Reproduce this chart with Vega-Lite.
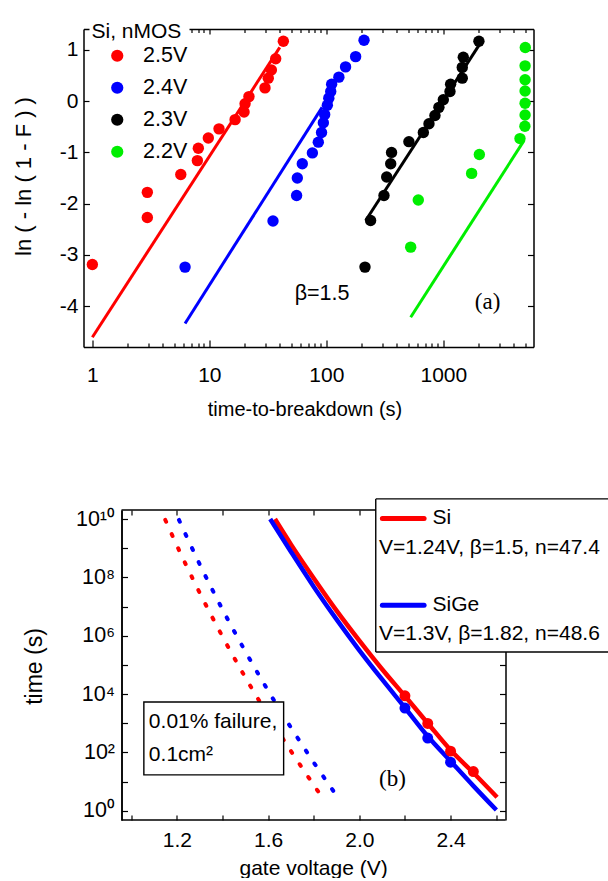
{
  "$schema": "https://vega.github.io/schema/vega-lite/v6.json",
  "background": "white",
  "padding": {"left": 11.5, "top": 19, "right": 0, "bottom": 0},
  "config": {
    "font": "Liberation Sans",
    "view": {"stroke": null},
    "axis": {"domainColor": "black", "domainWidth": 1.5, "tickColor": "black", "tickWidth": 1.2, "labelColor": "black", "titleColor": "black", "labelFont": "Liberation Sans", "titleFont": "Liberation Sans", "titleFontWeight": "normal", "grid": false, "labelFlush": false, "labelOverlap": false}
  },
  "resolve": {"scale": {"color": "independent"}, "legend": {"color": "independent"}},
  "concat": [
    {
      "width": 450,
      "height": 318,
      "layer": [
        {
          "data": {"values": [
            {"t": 1.0, "y": -3.19, "V": "2.5V"}, {"t": 2.95, "y": -2.27, "V": "2.5V"}, {"t": 2.95, "y": -1.78, "V": "2.5V"}, {"t": 5.7, "y": -1.43, "V": "2.5V"}, {"t": 7.9, "y": -1.16, "V": "2.5V"}, {"t": 8.05, "y": -0.92, "V": "2.5V"}, {"t": 9.8, "y": -0.72, "V": "2.5V"}, {"t": 12.1, "y": -0.54, "V": "2.5V"}, {"t": 16.6, "y": -0.36, "V": "2.5V"}, {"t": 19.8, "y": -0.21, "V": "2.5V"}, {"t": 20.2, "y": -0.05, "V": "2.5V"}, {"t": 21.8, "y": 0.09, "V": "2.5V"}, {"t": 29.9, "y": 0.26, "V": "2.5V"}, {"t": 31.9, "y": 0.45, "V": "2.5V"}, {"t": 33.9, "y": 0.61, "V": "2.5V"}, {"t": 36.9, "y": 0.83, "V": "2.5V"}, {"t": 42.9, "y": 1.17, "V": "2.5V"},
            {"t": 6.2, "y": -3.24, "V": "2.4V"}, {"t": 35, "y": -2.34, "V": "2.4V"}, {"t": 55.7, "y": -1.84, "V": "2.4V"}, {"t": 56.5, "y": -1.5, "V": "2.4V"}, {"t": 62.3, "y": -1.22, "V": "2.4V"}, {"t": 76, "y": -1.01, "V": "2.4V"}, {"t": 85.4, "y": -0.8, "V": "2.4V"}, {"t": 91, "y": -0.61, "V": "2.4V"}, {"t": 94.3, "y": -0.42, "V": "2.4V"}, {"t": 96.8, "y": -0.26, "V": "2.4V"}, {"t": 102, "y": -0.08, "V": "2.4V"}, {"t": 105, "y": 0.06, "V": "2.4V"}, {"t": 109, "y": 0.19, "V": "2.4V"}, {"t": 111, "y": 0.33, "V": "2.4V"}, {"t": 128, "y": 0.47, "V": "2.4V"}, {"t": 146, "y": 0.67, "V": "2.4V"}, {"t": 178, "y": 0.87, "V": "2.4V"}, {"t": 210, "y": 1.19, "V": "2.4V"},
            {"t": 214, "y": -3.24, "V": "2.3V"}, {"t": 239, "y": -2.33, "V": "2.3V"}, {"t": 311, "y": -1.84, "V": "2.3V"}, {"t": 328, "y": -1.48, "V": "2.3V"}, {"t": 355, "y": -1.22, "V": "2.3V"}, {"t": 361, "y": -1.0, "V": "2.3V"}, {"t": 508, "y": -0.79, "V": "2.3V"}, {"t": 675, "y": -0.61, "V": "2.3V"}, {"t": 754, "y": -0.44, "V": "2.3V"}, {"t": 848, "y": -0.28, "V": "2.3V"}, {"t": 917, "y": -0.12, "V": "2.3V"}, {"t": 1000, "y": 0.03, "V": "2.3V"}, {"t": 1140, "y": 0.19, "V": "2.3V"}, {"t": 1154, "y": 0.33, "V": "2.3V"}, {"t": 1452, "y": 0.45, "V": "2.3V"}, {"t": 1452, "y": 0.66, "V": "2.3V"}, {"t": 1482, "y": 0.86, "V": "2.3V"}, {"t": 2015, "y": 1.17, "V": "2.3V"},
            {"t": 526, "y": -2.85, "V": "2.2V"}, {"t": 611, "y": -1.93, "V": "2.2V"}, {"t": 1746, "y": -1.41, "V": "2.2V"}, {"t": 2032, "y": -1.04, "V": "2.2V"}, {"t": 4520, "y": -0.73, "V": "2.2V"}, {"t": 4980, "y": -0.49, "V": "2.2V"}, {"t": 5000, "y": -0.27, "V": "2.2V"}, {"t": 5000, "y": -0.04, "V": "2.2V"}, {"t": 5000, "y": 0.2, "V": "2.2V"}, {"t": 5000, "y": 0.42, "V": "2.2V"}, {"t": 5000, "y": 0.69, "V": "2.2V"}, {"t": 5020, "y": 1.05, "V": "2.2V"}
          ]},
          "mark": {"type": "circle", "size": 130, "opacity": 1},
          "encoding": {
            "x": {"field": "t", "type": "quantitative",
              "scale": {"type": "log", "domain": [0.84, 5900], "nice": false},
              "axis": {"orient": "bottom", "values": [1,10,100,1000], "format": "d", "ticks": false,
                "labelFontSize": 21, "labelPadding": 17.5,
                "title": "time-to-breakdown (s)", "titleFontSize": 20, "titleX": 221, "titleY": 68, "titleBaseline": "alphabetic", "titleAlign": "center"}},
            "y": {"field": "y", "type": "quantitative",
              "scale": {"domain": [-4.8, 1.41], "nice": false, "zero": false},
              "axis": {"orient": "left", "values": [-4,-3,-2,-1,0,1], "ticks": false,
                "labelExpr": "datum.value < 0 ? '-' + abs(datum.value) : '' + datum.value",
                "labelFontSize": 21, "labelPadding": 5.5,
                "title": "ln ( - ln ( 1 - F ) )", "titleFontSize": 22, "titleAngle": 270, "titleX": -60.5, "titleY": 147, "titleBaseline": "middle", "titleAlign": "center"}},
            "color": {"field": "V", "type": "nominal",
              "scale": {"domain": ["2.5V", "2.4V", "2.3V", "2.2V"], "range": ["#ff0000", "#0000ff", "#000000", "#00ee00"]},
              "legend": {"orient": "none", "legendX": 6, "legendY": -10, "title": "Si, nMOS", "titleFontSize": 21, "titleFontWeight": "normal", "titleFont": "Liberation Sans", "titleColor": "black", "titlePadding": 3,
                "labelFontSize": 21.5, "labelFont": "Liberation Sans", "labelColor": "black", "symbolType": "circle", "symbolSize": 150, "symbolStrokeWidth": 0, "symbolOpacity": 1, "symbolOffset": 15, "labelOffset": 15, "rowPadding": 9, "padding": 2, "fillColor": "white", "strokeColor": null}}
          }
        },
        {
          "data": {"values": [
            {"t": 1.0, "y": -4.61, "V": "2.5V"}, {"t": 40, "y": 1.05, "V": "2.5V"},
            {"t": 6.2, "y": -4.34, "V": "2.4V"}, {"t": 92, "y": -0.12, "V": "2.4V"},
            {"t": 217, "y": -2.33, "V": "2.3V"}, {"t": 2015, "y": 1.09, "V": "2.3V"},
            {"t": 526, "y": -4.22, "V": "2.2V"}, {"t": 4890, "y": -0.77, "V": "2.2V"}
          ]},
          "mark": {"type": "line", "strokeWidth": 3},
          "encoding": {
            "x": {"field": "t", "type": "quantitative",
              "axis": {"orient": "top", "values": [1,2,3,4,5,6,7,8,9,10,20,30,40,50,60,70,80,90,100,200,300,400,500,600,700,800,900,1000,2000,3000,4000,5000], "labels": false,
                "tickSize": {"condition": {"test": "datum.value == 1 || datum.value == 10 || datum.value == 100 || datum.value == 1000", "value": -5}, "value": -3.5}, "title": null}},
            "y": {"field": "y", "type": "quantitative",
              "axis": {"orient": "right", "values": [-4,-3,-2,-1,0,1], "labels": false, "tickSize": -6, "title": null}},
            "color": {"field": "V", "type": "nominal", "legend": null}
          }
        },
        {
          "data": {"values": [{"t": 92, "y": -3.76, "label": "β=1.5"}]},
          "mark": {"type": "text", "font": "Liberation Sans", "fontSize": 21.5, "align": "center", "baseline": "middle", "color": "black"},
          "encoding": {
            "x": {"field": "t", "type": "quantitative",
              "axis": {"orient": "bottom", "domain": false, "labels": false, "title": null, "values": [1,2,3,4,5,6,7,8,9,10,20,30,40,50,60,70,80,90,100,200,300,400,500,600,700,800,900,1000,2000,3000,4000,5000],
                "tickSize": {"condition": {"test": "datum.value == 1 || datum.value == 10 || datum.value == 100 || datum.value == 1000", "value": -7}, "value": -4}}},
            "y": {"field": "y", "type": "quantitative",
              "axis": {"orient": "left", "domain": false, "labels": false, "title": null, "values": [-4,-3,-2,-1,0,1], "tickSize": -6}},
            "text": {"field": "label"}
          }
        },
        {
          "data": {"values": [{"t": 2390, "y": -3.93, "label": "(a)"}]},
          "mark": {"type": "text", "font": "Liberation Serif", "fontSize": 23, "align": "center", "baseline": "middle", "color": "black"},
          "encoding": {
            "x": {"field": "t", "type": "quantitative", "axis": null},
            "y": {"field": "y", "type": "quantitative", "axis": null},
            "text": {"field": "label"}
          }
        }
      ],
      "resolve": {"axis": {"x": "independent", "y": "independent"}}
    },
    {
      "width": 422,
      "height": 310,
      "layer": [
        {
          "data": {"values": [
            {"V": 1.149, "t": 9.3e9, "s": "Si"}, {"V": 1.2, "t": 1.23e9, "s": "Si"}, {"V": 1.3, "t": 2.95e7, "s": "Si"}, {"V": 1.4, "t": 9.3e5, "s": "Si"}, {"V": 1.5, "t": 3.7e4, "s": "Si"}, {"V": 1.6, "t": 1860, "s": "Si"}, {"V": 1.7, "t": 110, "s": "Si"}, {"V": 1.8, "t": 7.6, "s": "Si"}, {"V": 1.847, "t": 2.2, "s": "Si"},
            {"V": 1.209, "t": 9.3e9, "s": "SiGe"}, {"V": 1.3, "t": 2.8e8, "s": "SiGe"}, {"V": 1.4, "t": 7.9e6, "s": "SiGe"}, {"V": 1.5, "t": 2.9e5, "s": "SiGe"}, {"V": 1.6, "t": 1.3e4, "s": "SiGe"}, {"V": 1.7, "t": 710, "s": "SiGe"}, {"V": 1.8, "t": 45, "s": "SiGe"}, {"V": 1.916, "t": 2.2, "s": "SiGe"}
          ]},
          "mark": {"type": "line", "strokeWidth": 4, "strokeDash": [2, 13.5], "strokeCap": "round", "interpolate": "monotone"},
          "encoding": {
            "x": {"field": "V", "type": "quantitative",
              "scale": {"domain": [0.7903, 2.641], "nice": false, "zero": false},
              "axis": {"orient": "bottom", "domain": false, "ticks": false, "values": [1.2,1.6,2.0,2.4], "format": ".1f",
                "labelFontSize": 21, "labelPadding": 9,
                "title": "gate voltage (V)", "titleFontSize": 21, "titleX": 229.6, "titleY": 54, "titleBaseline": "alphabetic", "titleAlign": "center"}},
            "y": {"field": "t", "type": "quantitative",
              "scale": {"type": "log", "domain": [0.479, 2.04e10], "nice": false},
              "axis": {"orient": "left", "offset": -38, "ticks": false, "values": [1,100,10000,1000000,100000000,10000000000],
                "labelExpr": "datum.value == 1 ? '10⁰' : datum.value == 100 ? '10²' : datum.value == 10000 ? '10⁴' : datum.value == 1000000 ? '10⁶' : datum.value == 100000000 ? '10⁸' : '10¹⁰'",
                "labelFontSize": 21.5, "labelPadding": 7,
                "title": "time (s)", "titleFontSize": 23, "titleAngle": 270, "titleX": -87, "titleY": 156, "titleBaseline": "middle", "titleAlign": "center"}},
            "color": {"field": "s", "type": "nominal", "scale": {"domain": ["Si", "SiGe"], "range": ["#ff0000", "#0000ff"]}, "legend": null},
            "detail": {"field": "s"}
          }
        },
        {
          "data": {"values": [{"x": 1.055, "x2": 1.668, "y": 5300, "y2": 16.9}]},
          "mark": {"type": "rect", "fill": "white", "stroke": "black", "strokeWidth": 1.4},
          "encoding": {
            "x": {"field": "x", "type": "quantitative",
              "axis": {"orient": "top", "domain": false, "values": [1.0,1.2,1.4,1.6,1.8,2.0,2.2,2.4,2.6], "labels": false, "tickSize": -5, "title": null}},
            "x2": {"field": "x2"},
            "y": {"field": "y", "type": "quantitative",
              "axis": {"orient": "right", "values": [1,10,100,1000,10000,100000,1000000,10000000,100000000,1000000000,10000000000], "labels": false, "tickSize": -6, "title": null}},
            "y2": {"field": "y2"}
          }
        },
        {
          "data": {"values": [{"x": 1.077, "y": 1100, "label": "0.01% failure,"}, {"x": 1.077, "y": 78, "label": "0.1cm²"}]},
          "mark": {"type": "text", "font": "Liberation Sans", "fontSize": 21, "align": "left", "baseline": "middle", "color": "black"},
          "encoding": {
            "x": {"field": "x", "type": "quantitative",
              "axis": {"orient": "bottom", "domain": false, "labels": false, "title": null, "values": [1.0,1.2,1.4,1.6,1.8,2.0,2.2,2.4,2.6], "tickSize": -5}},
            "y": {"field": "y", "type": "quantitative",
              "axis": {"orient": "left", "offset": -38, "labels": false, "title": null, "values": [1,10,100,1000,10000,100000,1000000,10000000,100000000,1000000000,10000000000], "tickSize": -6}},
            "text": {"field": "label"}
          }
        },
        {
          "data": {"values": [
            {"x": 0.957, "x2": 2.641, "y": 2.04e10},
            {"x": 0.957, "x2": 2.641, "y": 0.479}
          ]},
          "mark": {"type": "rule", "color": "black", "strokeWidth": 1.5},
          "encoding": {
            "x": {"field": "x", "type": "quantitative", "axis": null},
            "x2": {"field": "x2"},
            "y": {"field": "y", "type": "quantitative", "axis": null}
          }
        },
        {
          "data": {"values": [
            {"V": 1.63, "t": 1e10, "s": "Si"}, {"V": 1.7, "t": 1.35e9, "s": "Si"}, {"V": 1.8, "t": 9.33e7, "s": "Si"}, {"V": 1.9, "t": 7.24e6, "s": "Si"}, {"V": 2.0, "t": 6.76e5, "s": "Si"}, {"V": 2.1, "t": 7.08e4, "s": "Si"}, {"V": 2.2, "t": 8510, "s": "Si"}, {"V": 2.3, "t": 1000, "s": "Si"}, {"V": 2.4, "t": 120, "s": "Si"}, {"V": 2.5, "t": 20, "s": "Si"}, {"V": 2.604, "t": 2.9, "s": "Si"},
            {"V": 1.609, "t": 1e10, "s": "SiGe"}, {"V": 1.7, "t": 7.59e8, "s": "SiGe"}, {"V": 1.8, "t": 4.79e7, "s": "SiGe"}, {"V": 1.9, "t": 3.63e6, "s": "SiGe"}, {"V": 2.0, "t": 3.16e5, "s": "SiGe"}, {"V": 2.1, "t": 3.16e4, "s": "SiGe"}, {"V": 2.2, "t": 3390, "s": "SiGe"}, {"V": 2.3, "t": 355, "s": "SiGe"}, {"V": 2.4, "t": 50, "s": "SiGe"}, {"V": 2.5, "t": 7.1, "s": "SiGe"}, {"V": 2.601, "t": 1.05, "s": "SiGe"}
          ]},
          "mark": {"type": "line", "strokeWidth": 4.5, "interpolate": "monotone"},
          "encoding": {
            "x": {"field": "V", "type": "quantitative", "axis": null},
            "y": {"field": "t", "type": "quantitative", "axis": null},
            "color": {"field": "s", "type": "nominal", "legend": null}
          }
        },
        {
          "data": {"values": [
            {"V": 2.2, "t": 8700, "s": "Si"}, {"V": 2.3, "t": 980, "s": "Si"}, {"V": 2.4, "t": 110, "s": "Si"}, {"V": 2.5, "t": 22, "s": "Si"},
            {"V": 2.2, "t": 3300, "s": "SiGe"}, {"V": 2.3, "t": 310, "s": "SiGe"}, {"V": 2.4, "t": 46, "s": "SiGe"}
          ]},
          "mark": {"type": "circle", "size": 120, "opacity": 1},
          "encoding": {
            "x": {"field": "V", "type": "quantitative", "axis": null},
            "y": {"field": "t", "type": "quantitative", "axis": null},
            "color": {"field": "s", "type": "nominal", "legend": null}
          }
        },
        {
          "data": {"values": [{"x": 2.072, "x2": 3.092, "y": 4.9e10, "y2": 2.75e5}]},
          "mark": {"type": "rect", "fill": "white", "strokeWidth": 0},
          "encoding": {
            "x": {"field": "x", "type": "quantitative", "axis": null},
            "x2": {"field": "x2"},
            "y": {"field": "y", "type": "quantitative", "axis": null},
            "y2": {"field": "y2"}
          }
        },
        {
          "data": {"values": [
            {"x": 2.072, "x2": 2.072, "y": 4.9e10, "y2": 2.75e5},
            {"x": 2.072, "x2": 3.092, "y": 4.9e10, "y2": 4.9e10},
            {"x": 2.072, "x2": 3.092, "y": 2.75e5, "y2": 2.75e5}
          ]},
          "mark": {"type": "rule", "color": "black", "strokeWidth": 1.4},
          "encoding": {
            "x": {"field": "x", "type": "quantitative", "axis": null},
            "x2": {"field": "x2"},
            "y": {"field": "y", "type": "quantitative", "axis": null},
            "y2": {"field": "y2"}
          }
        },
        {
          "data": {"values": [
            {"x": 2.101, "x2": 2.284, "y": 1.05e10, "s": "Si"},
            {"x": 2.101, "x2": 2.284, "y": 1.1e7, "s": "SiGe"}
          ]},
          "mark": {"type": "rule", "strokeWidth": 5, "strokeCap": "round"},
          "encoding": {
            "x": {"field": "x", "type": "quantitative", "axis": null},
            "x2": {"field": "x2"},
            "y": {"field": "y", "type": "quantitative", "axis": null},
            "color": {"field": "s", "type": "nominal", "legend": null}
          }
        },
        {
          "data": {"values": [
            {"x": 2.321, "y": 1.05e10, "label": "Si"},
            {"x": 2.086, "y": 9.8e8, "label": "V=1.24V, β=1.5, n=47.4"},
            {"x": 2.321, "y": 1.1e7, "label": "SiGe"},
            {"x": 2.086, "y": 1.17e6, "label": "V=1.3V, β=1.82, n=48.6"}
          ]},
          "mark": {"type": "text", "font": "Liberation Sans", "fontSize": 21, "align": "left", "baseline": "middle", "color": "black"},
          "encoding": {
            "x": {"field": "x", "type": "quantitative", "axis": null},
            "y": {"field": "y", "type": "quantitative", "axis": null},
            "text": {"field": "label"}
          }
        },
        {
          "data": {"values": [{"x": 2.145, "y": 12.3, "label": "(b)"}]},
          "mark": {"type": "text", "font": "Liberation Serif", "fontSize": 23, "align": "center", "baseline": "middle", "color": "black"},
          "encoding": {
            "x": {"field": "x", "type": "quantitative", "axis": null},
            "y": {"field": "y", "type": "quantitative", "axis": null},
            "text": {"field": "label"}
          }
        }
      ],
      "resolve": {"axis": {"x": "independent", "y": "independent"}}
    }
  ],
  "columns": 1,
  "align": "none",
  "spacing": 79
}
